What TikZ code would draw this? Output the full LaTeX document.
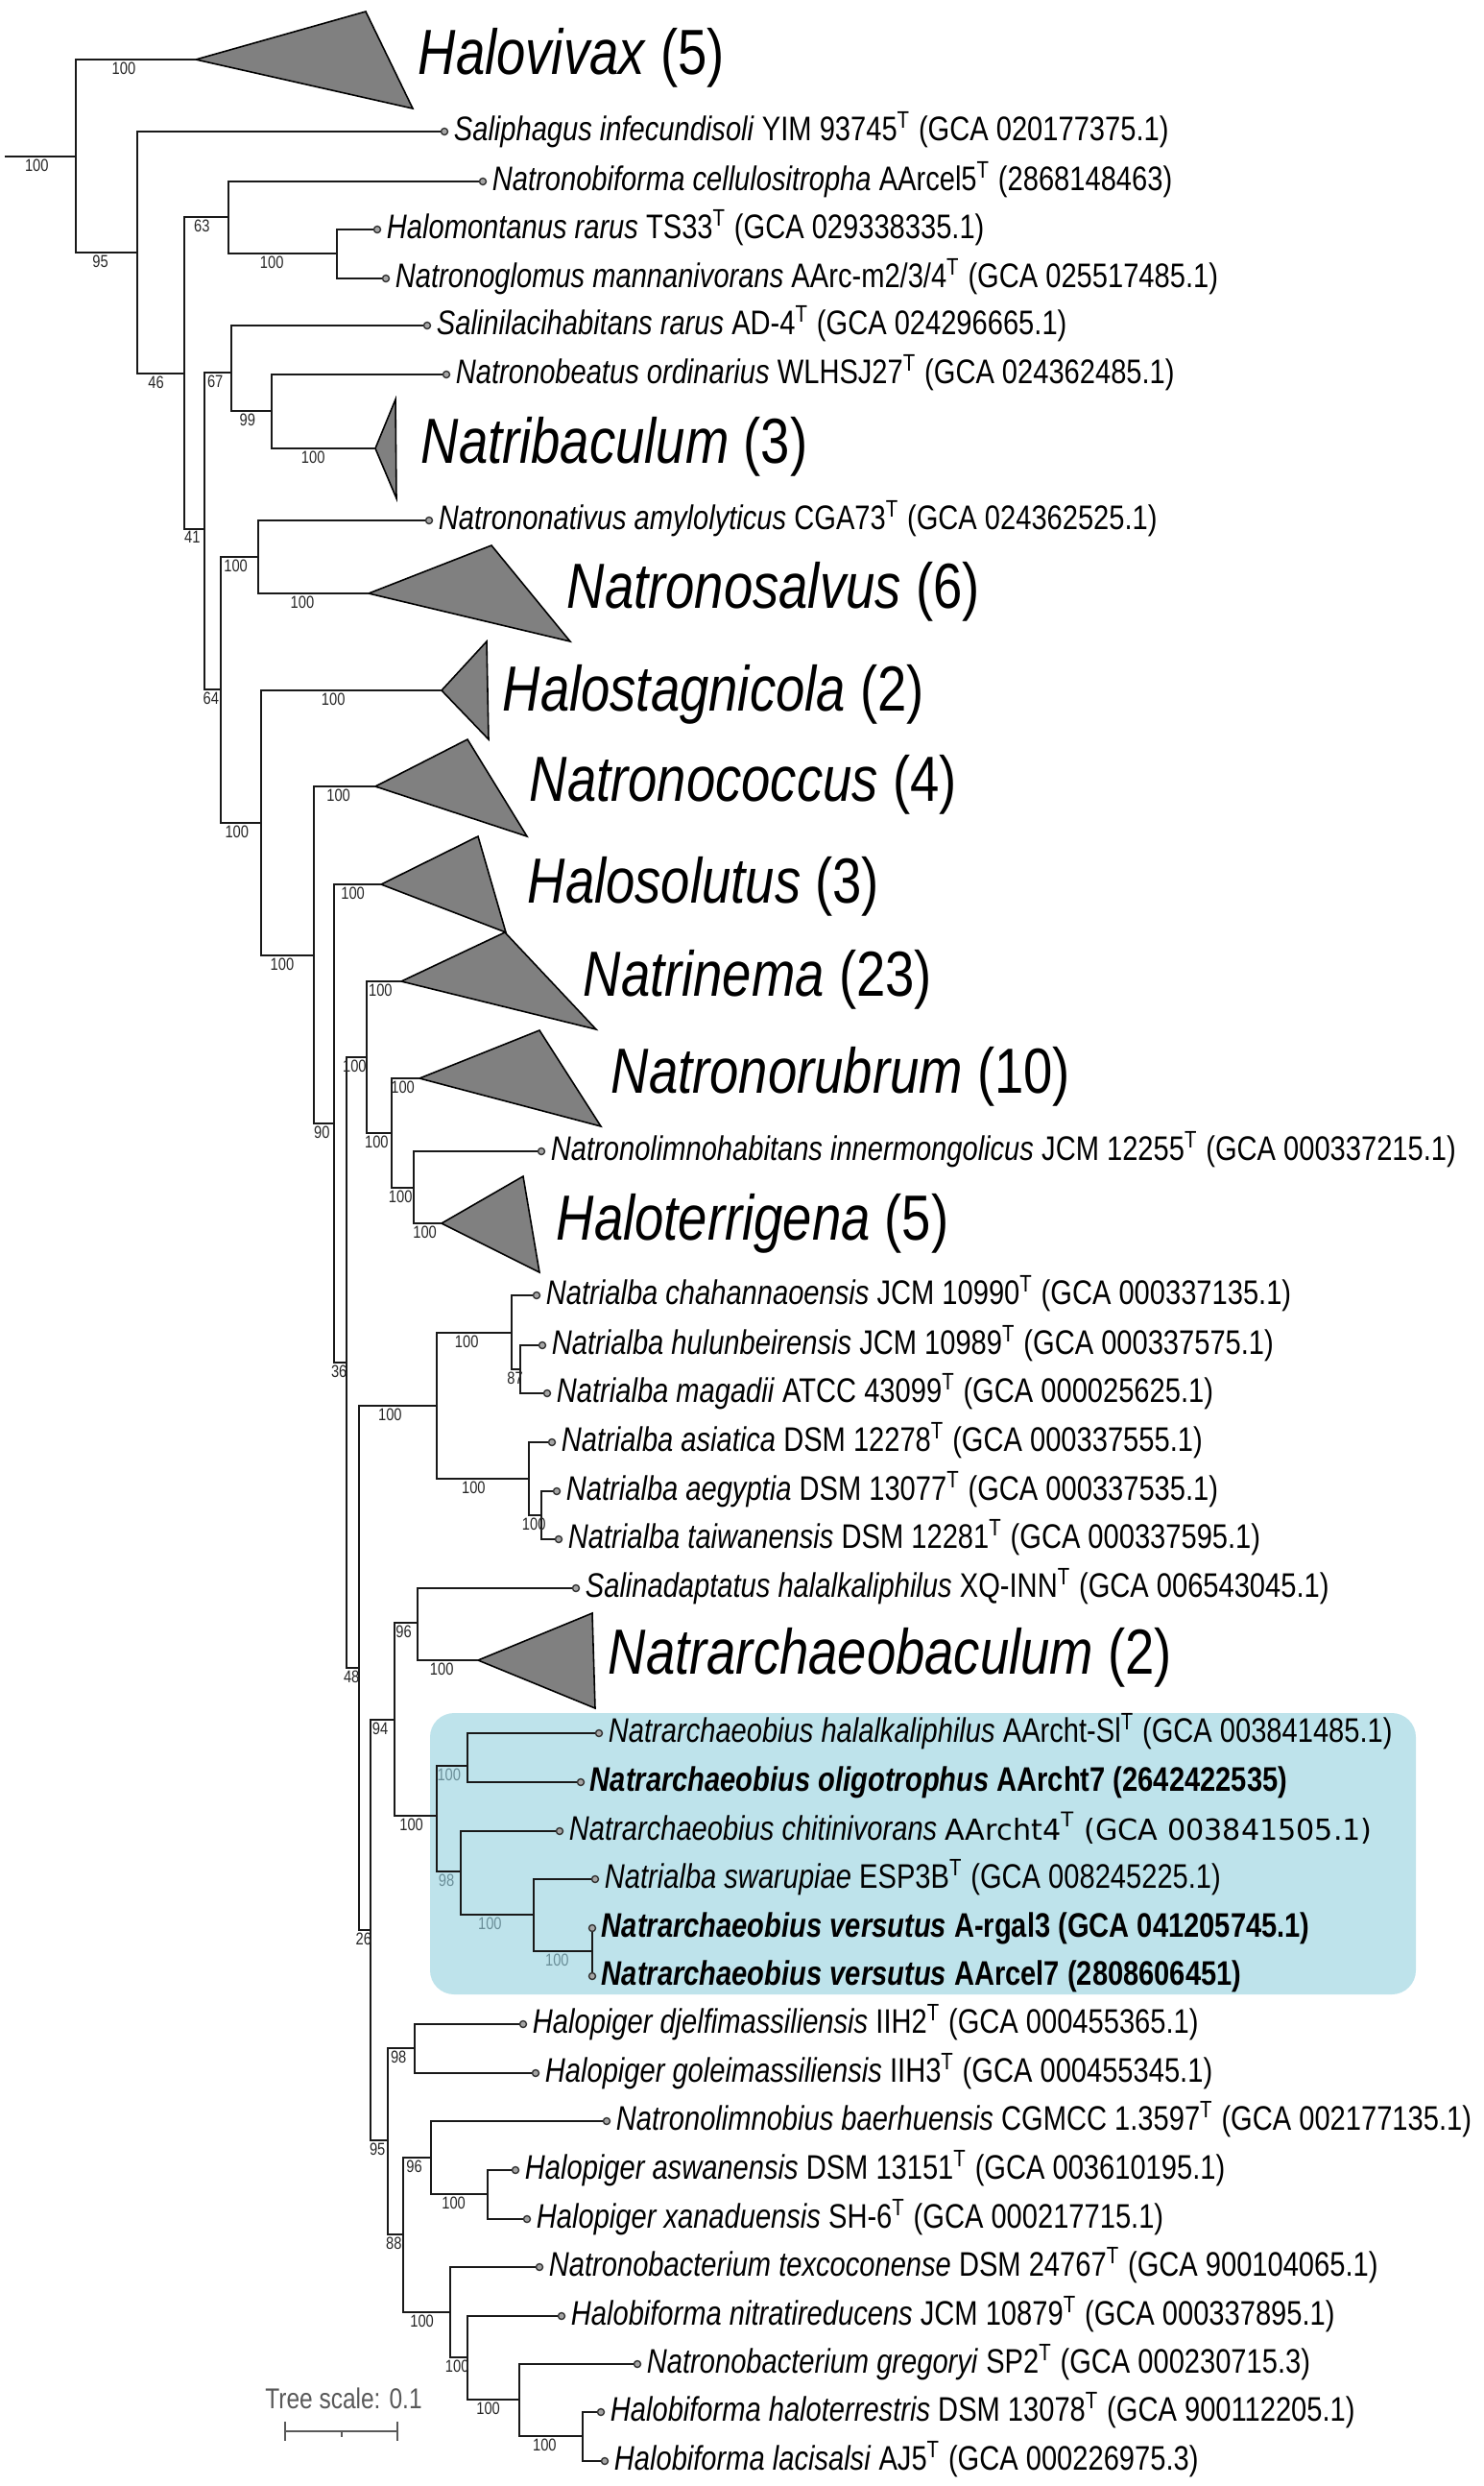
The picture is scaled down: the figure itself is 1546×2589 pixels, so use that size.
\documentclass[tikz,border=0pt]{standalone}
\usepackage{fontspec}
\setmainfont{Liberation Sans}[FakeStretch=0.82]
\newfontfamily\dejavu{DejaVu Sans}
\usetikzlibrary{positioning}
\definecolor{boxblue}{HTML}{BEE3EB}
\definecolor{bsteal}{HTML}{6A8E98}
\newcommand{\Ts}{\textsuperscript{T}}

\begin{document}
\begin{tikzpicture}[x=0.1mm, y=-0.1mm,
    branch/.style={draw=black!90, line width=0.6pt},
    tipdot/.style={circle, draw=black!80, fill=black!35, line width=0.4pt, inner sep=0pt, minimum size=0.7mm},
    leaf/.style={inner sep=0pt, anchor=west, text height=2.6mm, text depth=0.8mm, font=\fontsize{10.1}{12}\selectfont},
    clade/.style={fill=black!50, draw=black, line width=0.45pt},
    cladelab/.style={anchor=base west, inner sep=0pt, font=\fontsize{18.9}{22}\selectfont},
    bs/.style={pos=.7, anchor=north, inner sep=0.15mm, font=\fontsize{5.1}{6}\selectfont, text=black!85},
    bsin/.style={bs, text=bsteal}]

    \useasboundingbox (0,0) rectangle (1546,2589);
    \fill[boxblue, rounded corners=2.5mm] (448,1784) rectangle (1475,2077);

    % internal nodes
    \coordinate (r0) at (5,163);
    \coordinate (n0) at (79,163);
    \coordinate (n95) at (143,263);
    \coordinate (n46) at (192,389);
    \coordinate (n63) at (238,226);
    \coordinate (n100a) at (351,264);
    \coordinate (n41) at (213,551);
    \coordinate (n67) at (241,388);
    \coordinate (n99) at (283,428);
    \coordinate (n64) at (230,718);
    \coordinate (n100b) at (269,580);
    \coordinate (n100c) at (272,857);
    \coordinate (n100d) at (327,995);
    \coordinate (n90) at (348,1170);
    \coordinate (n36) at (361,1419);
    \coordinate (n100e) at (382,1101);
    \coordinate (n100f) at (408,1180);
    \coordinate (n100g) at (431,1237);
    \coordinate (n48) at (374,1737);
    \coordinate (n100h) at (455,1464);
    \coordinate (n100i) at (533,1388);
    \coordinate (n87) at (542,1426);
    \coordinate (n100j) at (551,1540);
    \coordinate (n100k) at (564,1578);
    \coordinate (n26) at (386,2010);
    \coordinate (n94) at (411,1791);
    \coordinate (n96) at (435,1690);
    \coordinate (n100l) at (455,1891);
    \coordinate (n100m) at (487,1839);
    \coordinate (n98) at (480,1949);
    \coordinate (n100n) at (556,1994);
    \coordinate (n100o) at (617,2032);
    \coordinate (n95b) at (404,2229);
    \coordinate (n98b) at (432,2133);
    \coordinate (n88) at (420,2327);
    \coordinate (n96b) at (449,2247);
    \coordinate (n100q) at (508,2285);
    \coordinate (n100p) at (469,2408);
    \coordinate (n100r) at (487,2455);
    \coordinate (n100s) at (541,2499);
    \coordinate (n100t) at (607,2537);

    % collapsed clades
    \coordinate (hvx) at (204,62);
    \coordinate (nbc) at (391,467);
    \coordinate (nsv) at (384,618);
    \coordinate (hsg) at (460,719);
    \coordinate (ncc) at (391,819);
    \coordinate (hso) at (397,921);
    \coordinate (nmn) at (418,1022);
    \coordinate (nrb) at (437,1123);
    \coordinate (htg) at (460,1274);
    \coordinate (nab) at (498,1729);

    \draw[clade] (hvx) -- ++(177,-50) -- ++(49,101) -- cycle;
    \draw[clade] (nbc) -- ++(21,-51) -- ++(1,103) -- cycle;
    \draw[clade] (nsv) -- ++(128,-50) -- ++(82,100) -- cycle;
    \draw[clade] (hsg) -- ++(47,-51) -- ++(2,102) -- cycle;
    \draw[clade] (ncc) -- ++(96,-49) -- ++(62,101) -- cycle;
    \draw[clade] (hso) -- ++(101,-50) -- ++(29,100) -- cycle;
    \draw[clade] (nmn) -- ++(108,-51) -- ++(95,101) -- cycle;
    \draw[clade] (nrb) -- ++(125,-50) -- ++(64,100) -- cycle;
    \draw[clade] (htg) -- ++(85,-49) -- ++(17,100) -- cycle;
    \draw[clade] (nab) -- ++(119,-49) -- ++(3,99) -- cycle;

    \node[cladelab] (hvxL) at (435,77) {\textit{Halovivax} (5)};
    \node[cladelab] (nbcL) at (438,482) {\textit{Natribaculum} (3)};
    \node[cladelab] (nsvL) at (590,633) {\textit{Natronosalvus} (6)};
    \node[cladelab] (hsgL) at (523,740) {\textit{Halostagnicola} (2)};
    \node[cladelab] (nccL) at (551,834) {\textit{Natronococcus} (4)};
    \node[cladelab] (hsoL) at (549,940) {\textit{Halosolutus} (3)};
    \node[cladelab] (nmnL) at (607,1037) {\textit{Natrinema} (23)};
    \node[cladelab] (nrbL) at (636,1138) {\textit{Natronorubrum} (10)};
    \node[cladelab] (htgL) at (579,1291) {\textit{Haloterrigena} (5)};
    \node[cladelab] (nabL) at (633,1743) {\textit{Natrarchaeobaculum} (2)};

    % leaves
    \node[tipdot] (sal) at (463,137) {};
    \node[tipdot] (nbf) at (503,189) {};
    \node[tipdot] (hmt) at (393,239) {};
    \node[tipdot] (ngl) at (402,290) {};
    \node[tipdot] (sli) at (445,339) {};
    \node[tipdot] (nbe) at (465,390) {};
    \node[tipdot] (nnv) at (447,542) {};
    \node[tipdot] (nlh) at (564,1199) {};
    \node[tipdot] (cha) at (559,1349) {};
    \node[tipdot] (hul) at (565,1401) {};
    \node[tipdot] (mag) at (570,1451) {};
    \node[tipdot] (asi) at (575,1502) {};
    \node[tipdot] (aeg) at (580,1553) {};
    \node[tipdot] (tai) at (582,1603) {};
    \node[tipdot] (sad) at (600,1654) {};
    \node[tipdot] (hal) at (624,1805) {};
    \node[tipdot] (oli) at (605,1856) {};
    \node[tipdot] (chi) at (583,1907) {};
    \node[tipdot] (swa) at (620,1957) {};
    \node[tipdot] (ver1) at (617,2008) {};
    \node[tipdot] (ver2) at (617,2058) {};
    \node[tipdot] (hdj) at (545,2108) {};
    \node[tipdot] (hgo) at (558,2159) {};
    \node[tipdot] (nbh) at (632,2209) {};
    \node[tipdot] (hasw) at (537,2260) {};
    \node[tipdot] (hxan) at (549,2311) {};
    \node[tipdot] (ntx) at (562,2361) {};
    \node[tipdot] (hni) at (585,2412) {};
    \node[tipdot] (ngr) at (664,2462) {};
    \node[tipdot] (hht) at (626,2512) {};
    \node[tipdot] (hla) at (630,2563) {};

    \node[leaf] (salL) [right=0.5mm of sal] {\textit{Saliphagus infecundisoli} YIM 93745\Ts{} (GCA 020177375.1)};
    \node[leaf] (nbfL) [right=0.5mm of nbf] {\textit{Natronobiforma cellulositropha} AArcel5\Ts{} (2868148463)};
    \node[leaf] (hmtL) [right=0.5mm of hmt] {\textit{Halomontanus rarus} TS33\Ts{} (GCA 029338335.1)};
    \node[leaf] (nglL) [right=0.5mm of ngl] {\textit{Natronoglomus mannanivorans} AArc-m2/3/4\Ts{} (GCA 025517485.1)};
    \node[leaf] (sliL) [right=0.5mm of sli] {\textit{Salinilacihabitans rarus} AD-4\Ts{} (GCA 024296665.1)};
    \node[leaf] (nbeL) [right=0.5mm of nbe] {\textit{Natronobeatus ordinarius} WLHSJ27\Ts{} (GCA 024362485.1)};
    \node[leaf] (nnvL) [right=0.5mm of nnv] {\textit{Natrononativus amylolyticus} CGA73\Ts{} (GCA 024362525.1)};
    \node[leaf] (nlhL) [right=0.5mm of nlh] {\textit{Natronolimnohabitans innermongolicus} JCM 12255\Ts{} (GCA 000337215.1)};
    \node[leaf] (chaL) [right=0.5mm of cha] {\textit{Natrialba chahannaoensis} JCM 10990\Ts{} (GCA 000337135.1)};
    \node[leaf] (hulL) [right=0.5mm of hul] {\textit{Natrialba hulunbeirensis} JCM 10989\Ts{} (GCA 000337575.1)};
    \node[leaf] (magL) [right=0.5mm of mag] {\textit{Natrialba magadii} ATCC 43099\Ts{} (GCA 000025625.1)};
    \node[leaf] (asiL) [right=0.5mm of asi] {\textit{Natrialba asiatica} DSM 12278\Ts{} (GCA 000337555.1)};
    \node[leaf] (aegL) [right=0.5mm of aeg] {\textit{Natrialba aegyptia} DSM 13077\Ts{} (GCA 000337535.1)};
    \node[leaf] (taiL) [right=0.5mm of tai] {\textit{Natrialba taiwanensis} DSM 12281\Ts{} (GCA 000337595.1)};
    \node[leaf] (sadL) [right=0.5mm of sad] {\textit{Salinadaptatus halalkaliphilus} XQ-INN\Ts{} (GCA 006543045.1)};
    \node[leaf] (halL) [right=0.5mm of hal] {\textit{Natrarchaeobius halalkaliphilus} AArcht-Sl\Ts{} (GCA 003841485.1)};
    \node[leaf] (oliL) [right=0.5mm of oli] {\textbf{\textit{Natrarchaeobius oligotrophus} AArcht7 (2642422535)}};
    \node[leaf] (chiL) [right=0.5mm of chi] {\textit{Natrarchaeobius chitinivorans} {\dejavu\fontsize{8.6}{10}\selectfont AArcht4\Ts{} (GCA 003841505.1)}};
    \node[leaf] (swaL) [right=0.5mm of swa] {\textit{Natrialba swarupiae} ESP3B\Ts{} (GCA 008245225.1)};
    \node[leaf] (ver1L) [right=0.5mm of ver1] {\textbf{\textit{Natrarchaeobius versutus} A-rgal3 (GCA 041205745.1)}};
    \node[leaf] (ver2L) [right=0.5mm of ver2] {\textbf{\textit{Natrarchaeobius versutus} AArcel7 (2808606451)}};
    \node[leaf] (hdjL) [right=0.5mm of hdj] {\textit{Halopiger djelfimassiliensis} IIH2\Ts{} (GCA 000455365.1)};
    \node[leaf] (hgoL) [right=0.5mm of hgo] {\textit{Halopiger goleimassiliensis} IIH3\Ts{} (GCA 000455345.1)};
    \node[leaf] (nbhL) [right=0.5mm of nbh] {\textit{Natronolimnobius baerhuensis} CGMCC 1.3597\Ts{} (GCA 002177135.1)};
    \node[leaf] (haswL) [right=0.5mm of hasw] {\textit{Halopiger aswanensis} DSM 13151\Ts{} (GCA 003610195.1)};
    \node[leaf] (hxanL) [right=0.5mm of hxan] {\textit{Halopiger xanaduensis} SH-6\Ts{} (GCA 000217715.1)};
    \node[leaf] (ntxL) [right=0.5mm of ntx] {\textit{Natronobacterium texcoconense} DSM 24767\Ts{} (GCA 900104065.1)};
    \node[leaf] (hniL) [right=0.5mm of hni] {\textit{Halobiforma nitratireducens} JCM 10879\Ts{} (GCA 000337895.1)};
    \node[leaf] (ngrL) [right=0.5mm of ngr] {\textit{Natronobacterium gregoryi} SP2\Ts{} (GCA 000230715.3)};
    \node[leaf] (hhtL) [right=0.5mm of hht] {\textit{Halobiforma haloterrestris} DSM 13078\Ts{} (GCA 900112205.1)};
    \node[leaf] (hlaL) [right=0.5mm of hla] {\textit{Halobiforma lacisalsi} AJ5\Ts{} (GCA 000226975.3)};

    % branches
    \draw[branch]
    (r0) -- node[bs, pos=.45] {100} (n0)
    (n0) |- node[bs] {100} (hvx)
    (n0) |- node[bs] {95} (n95)
    (n95) |- (sal)
    (n95) |- node[bs] {46} (n46)
    (n46) |- node[bs] {63} (n63)
    (n46) |- node[bs] {41} (n41)
    (n63) |- (nbf)
    (n63) |- node[bs] {100} (n100a)
    (n100a) |- (hmt)
    (n100a) |- (ngl)
    (n41) |- node[bs] {67} (n67)
    (n41) |- node[bs] {64} (n64)
    (n67) |- (sli)
    (n67) |- node[bs] {99} (n99)
    (n99) |- (nbe)
    (n99) |- node[bs] {100} (nbc)
    (n64) |- node[bs] {100} (n100b)
    (n64) |- node[bs] {100} (n100c)
    (n100b) |- (nnv)
    (n100b) |- node[bs] {100} (nsv)
    (n100c) |- node[bs] {100} (hsg)
    (n100c) |- node[bs] {100} (n100d)
    (n100d) |- node[bs] {100} (ncc)
    (n100d) |- node[bs] {90} (n90)
    (n90) |- node[bs] {100} (hso)
    (n90) |- node[bs] {36} (n36)
    (n36) |- node[bs] {100} (n100e)
    (n36) |- node[bs] {48} (n48)
    (n100e) |- node[bs] {100} (nmn)
    (n100e) |- node[bs] {100} (n100f)
    (n100f) |- node[bs] {100} (nrb)
    (n100f) |- node[bs] {100} (n100g)
    (n100g) |- (nlh)
    (n100g) |- node[bs] {100} (htg)
    (n48) |- node[bs] {100} (n100h)
    (n48) |- node[bs] {26} (n26)
    (n100h) |- node[bs] {100} (n100i)
    (n100h) |- node[bs] {100} (n100j)
    (n100i) |- (cha)
    (n100i) |- node[bs] {87} (n87)
    (n87) |- (hul)
    (n87) |- (mag)
    (n100j) |- (asi)
    (n100j) |- node[bs] {100} (n100k)
    (n100k) |- (aeg)
    (n100k) |- (tai)
    (n26) |- node[bs] {94} (n94)
    (n26) |- node[bs] {95} (n95b)
    (n94) |- node[bs] {96} (n96)
    (n94) |- node[bs] {100} (n100l)
    (n96) |- (sad)
    (n96) |- node[bs] {100} (nab)
    (n100l) |- node[bsin] {100} (n100m)
    (n100l) |- node[bsin] {98} (n98)
    (n100m) |- (hal)
    (n100m) |- (oli)
    (n98) |- (chi)
    (n98) |- node[bsin] {100} (n100n)
    (n100n) |- (swa)
    (n100n) |- node[bsin] {100} (n100o)
    (ver1) -- (ver2)
    (n95b) |- node[bs] {98} (n98b)
    (n95b) |- node[bs] {88} (n88)
    (n98b) |- (hdj)
    (n98b) |- (hgo)
    (n88) |- node[bs] {96} (n96b)
    (n88) |- node[bs] {100} (n100p)
    (n96b) |- (nbh)
    (n96b) |- node[bs] {100} (n100q)
    (n100q) |- (hasw)
    (n100q) |- (hxan)
    (n100p) |- (ntx)
    (n100p) |- node[bs] {100} (n100r)
    (n100r) |- (hni)
    (n100r) |- node[bs] {100} (n100s)
    (n100s) |- (ngr)
    (n100s) |- node[bs] {100} (n100t)
    (n100t) |- (hht)
    (n100t) |- (hla);

    % tree scale
    \coordinate (sc1) at (297,2532);
    \coordinate (sc2) at (414,2532);
    \coordinate (scm) at (356,2532);
    \node[text=black!65, inner sep=0pt, font=\fontsize{8.5}{10}\selectfont] (scL) at (358,2498) {Tree scale: 0.1};
    \draw[black!65, line width=0.8pt] (sc1) -- (sc2)
    (sc1) ++(0,-10) -- ++(0,20)
    (sc2) ++(0,-10) -- ++(0,20)
    (scm) -- ++(0,6);
\end{tikzpicture}
\end{document}
